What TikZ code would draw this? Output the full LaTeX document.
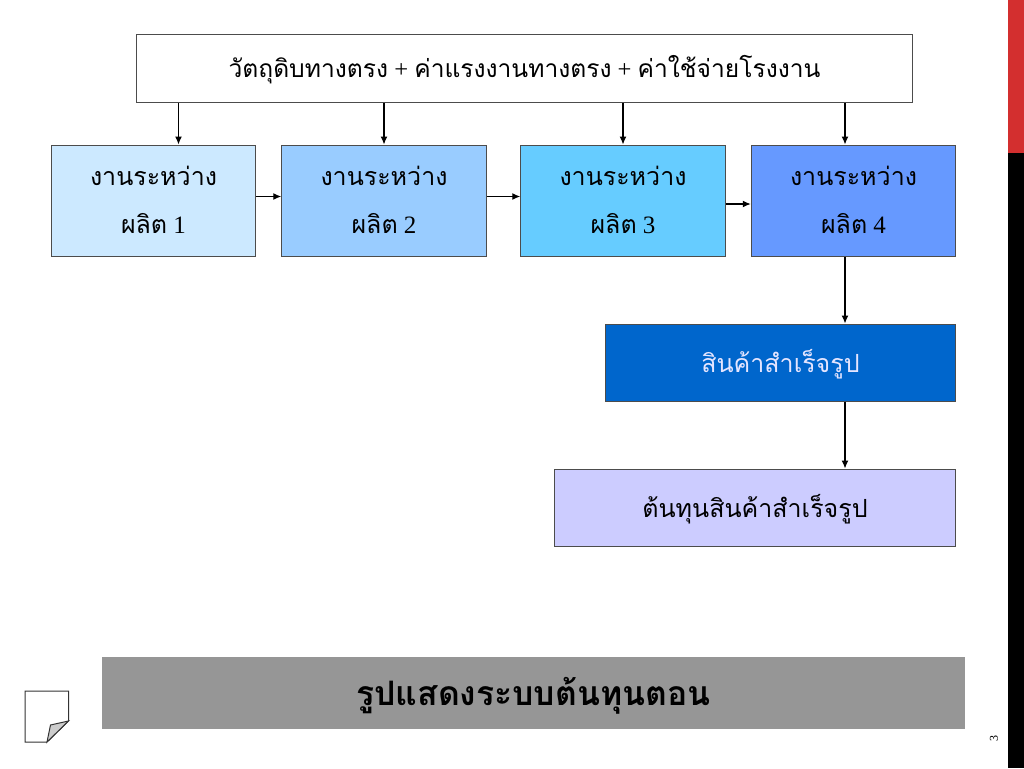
\documentclass[tikz,border=0pt]{standalone}
\usepackage{fontspec}
\setmainfont{Liberation Serif}
\newfontfamily\thaifont[Script=Thai]{Loma}
\usetikzlibrary{positioning,arrows.meta}
\tikzset{%
costbox/.style={draw=black!70,line width=1pt,rectangle,inner sep=0pt,text depth=4pt,font=\fontsize{25}{48}\selectfont,align=center},
wipbox/.style={costbox,text depth=2pt,minimum width=204.5pt,minimum height=111pt},
flow/.style={-{Latex[length=8pt,width=7pt]},line width=1.2pt,black}
}
\definecolor{wipa}{HTML}{CCE9FF}
\definecolor{wipb}{HTML}{99CCFF}
\definecolor{wipc}{HTML}{66CCFF}
\definecolor{wipd}{HTML}{6699FF}
\definecolor{finished}{HTML}{0066CC}
\definecolor{costfill}{HTML}{CCCCFF}
\definecolor{bandgray}{HTML}{969696}
\definecolor{sidered}{HTML}{D32F2F}
\begin{document}
\begin{tikzpicture}[x=1pt,y=-1pt]
    \useasboundingbox (0,0) rectangle (1024,768);

    % side bar
    \fill[sidered] (1008,0) rectangle (1024,153);
    \fill[black] (1008,153) rectangle (1024,768);

    \node[costbox,minimum width=776pt,minimum height=67.5pt,font=\fontsize{24.6}{30}\selectfont] (inputs) at (524.5,68.5) {{\thaifont วัตถุดิบทางตรง} + {\thaifont ค่าแรงงานทางตรง} + {\thaifont ค่าใช้จ่ายโรงงาน}};

    \node[wipbox,fill=wipa] (wip1) at (153.5,200.5) {{\thaifont งานระหว่าง}\\{\thaifont ผลิต} 1};
    \node[wipbox,fill=wipb] (wip2) [right=25pt of wip1] {{\thaifont งานระหว่าง}\\{\thaifont ผลิต} 2};
    \node[wipbox,fill=wipc] (wip3) [right=33.5pt of wip2] {{\thaifont งานระหว่าง}\\{\thaifont ผลิต} 3};
    \node[wipbox,fill=wipd] (wip4) [right=25pt of wip3] {{\thaifont งานระหว่าง}\\{\thaifont ผลิต} 4};

    \node[costbox,fill=finished,text=white!90!blue,minimum width=350pt,minimum height=77pt] (final) at (780.5,362.5) {\thaifont สินค้าสำเร็จรูป};
    \node[costbox,fill=costfill,minimum width=401pt,minimum height=77pt] (cost) at (755,507.5) {\thaifont ต้นทุนสินค้าสำเร็จรูป};

    \path[flow] ([xshift=25pt]wip1.north |- inputs.south) edge ([xshift=25pt]wip1.north)
                (wip2.north |- inputs.south) edge (wip2.north)
                (wip3.north |- inputs.south) edge (wip3.north)
                ([xshift=-8.5pt]wip4.north |- inputs.south) edge ([xshift=-8.5pt]wip4.north);

    \path[flow] ([yshift=4pt]wip1.east) edge ([yshift=4pt]wip2.west)
                ([yshift=4pt]wip2.east) edge ([yshift=4pt]wip3.west)
                ([yshift=-3.5pt]wip3.east) edge ([yshift=-3.5pt]wip4.west);

    \draw[flow] ([xshift=-8.5pt]wip4.south) -- ([xshift=-8.5pt]wip4.south |- final.north);
    \draw[flow] ([xshift=-8.5pt]wip4.south |- final.south) -- ([xshift=-8.5pt]wip4.south |- cost.north);

    \node[fill=bandgray,minimum width=863pt,minimum height=72pt,inner sep=0pt,text depth=3.5pt,font=\fontsize{33.7}{38}\selectfont\bfseries\thaifont] (caption) at (533.5,693) {รูปแสดงระบบต้นทุนตอน};

    % folded note
    \draw[line width=1pt,black!80,fill=white] (25,691) -- (68.5,691) -- (68.5,721) -- (47,742) -- (25,742) -- cycle;
    \draw[line width=1pt,black!80,fill=black!20] (68.5,721) -- (50.5,725) -- (47,742) -- cycle;

    \node[rotate=90,font=\fontsize{12}{12}\selectfont,inner sep=0pt] (pagenum) at (994,738) {3};
  \end{tikzpicture}
\end{document}
